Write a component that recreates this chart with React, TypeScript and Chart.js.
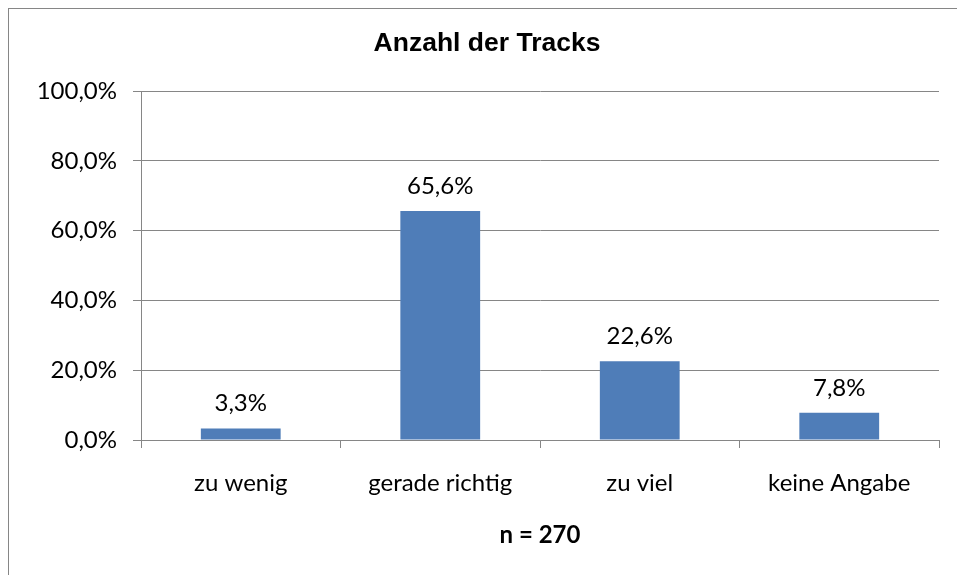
import React, { useEffect, useRef } from "react";
import { Chart, registerables } from "chart.js";

Chart.register(...registerables);

const categories = ["zu wenig", "gerade richtig", "zu viel", "keine Angabe"];
const values = [3.3, 65.6, 22.6, 7.8];
const chartTitle = "Anzahl der Tracks";
const xAxisTitle = "n = 270";

const fmt = (v: number) => v.toFixed(1).replace(".", ",") + "%";

const LABEL_FONT = "Lato";
const AXIS_GRAY = "#868686";
const BAR_BLUE = "#4F7DB8";

export default function App() {
  const ref = useRef<HTMLCanvasElement | null>(null);

  useEffect(() => {
    if (!ref.current) return;
    const extras = {
      id: "extras",
      afterDatasetsDraw(chart: any) {
        const ctx = chart.ctx;
        ctx.save();
        ctx.fillStyle = "#000";
        ctx.textAlign = "center";
        ctx.textBaseline = "alphabetic";
        ctx.font = `24px ${LABEL_FONT}`;
        const meta = chart.getDatasetMeta(0);
        meta.data.forEach((bar: any, i: number) => {
          ctx.fillText(fmt(values[i]), bar.x, bar.y - 17);
        });
        ctx.font = `bold 26.5px "Liberation Sans", Arial, sans-serif`;
        ctx.textBaseline = "middle";
        ctx.fillText(chartTitle, 487, 44);
        ctx.restore();
      },
    };
    const chart = new Chart(ref.current, {
      type: "bar",
      data: {
        labels: categories,
        datasets: [
          {
            data: values,
            backgroundColor: BAR_BLUE,
            borderWidth: 0,
            categoryPercentage: 0.4,
            barPercentage: 1,
          },
        ],
      },
      options: {
        responsive: false,
        animation: false,
        layout: { padding: { top: 91, right: 18, left: 0, bottom: 0 } },
        plugins: {
          legend: { display: false },
          title: { display: false },
          tooltip: { enabled: false },
        },
        scales: {
          x: {
            offset: true,
            grid: {
              display: true,
              drawOnChartArea: false,
              drawTicks: true,
              tickLength: 8,
              color: AXIS_GRAY,
              offset: true,
            },
            border: { display: true, color: AXIS_GRAY, width: 1 },
            ticks: {
              color: "#000",
              font: { family: LABEL_FONT, size: 24 },
              padding: 21,
              maxRotation: 0,
            },
            title: {
              display: true,
              text: xAxisTitle,
              color: "#000",
              font: { family: LABEL_FONT, size: 24, weight: "bold" },
              padding: { top: 0, bottom: 25 },
            },
            afterFit: (s: any) => {
              s.height = 135;
            },
          },
          y: {
            min: 0,
            max: 100,
            ticks: {
              stepSize: 20,
              color: "#000",
              font: { family: LABEL_FONT, size: 24 },
              padding: 16,
              callback: (v: any) => fmt(Number(v)),
            },
            grid: {
              color: AXIS_GRAY,
              tickLength: 8,
              lineWidth: 1,
            },
            border: { display: true, color: AXIS_GRAY, width: 1 },
            afterFit: (s: any) => {
              s.width = 141;
            },
          },
        },
      },
      plugins: [extras],
    });
    return () => chart.destroy();
  }, []);

  return (
    <div>
      <div
        style={{
          position: "absolute",
          left: 8,
          top: 8,
          width: 949,
          height: 567,
          borderLeft: `1px solid ${AXIS_GRAY}`,
          borderTop: `1px solid ${AXIS_GRAY}`,
          boxSizing: "border-box",
        }}
      />
      <canvas
        ref={ref}
        width={957}
        height={575}
        style={{ position: "absolute", left: 0, top: 0, width: 957, height: 575 }}
      />
    </div>
  );
}
